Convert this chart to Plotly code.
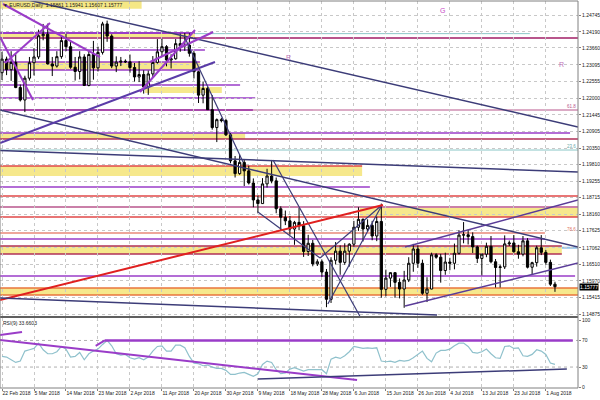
import plotly.graph_objects as go

# ---------------- data ----------------
opens = [1.2284,1.2329,1.2294,1.2318,1.2235,1.2194,1.2266,1.2317,1.2336,1.2406,1.2411,1.2313,1.2306,1.2337,1.2390,1.2370,1.2302,1.2288,1.2336,1.2242,
         1.2344,1.2300,1.2351,1.2445,1.2405,1.2306,1.2319,1.2322,1.2320,1.2301,1.2270,1.2278,1.2237,1.2280,1.2318,1.2353,1.2370,1.2326,1.2330,1.2380,
         1.2373,1.2375,1.2348,1.2287,1.2210,1.2232,1.2162,1.2103,1.2129,1.2126,1.2079,1.1993,1.1951,1.1988,1.1960,1.1920,1.1864,1.1852,1.1917,1.1943,
         1.1927,1.1835,1.1807,1.1795,1.1768,1.1790,1.1779,1.1694,1.1721,1.1653,1.1660,1.1626,1.1536,1.1665,1.1695,1.1658,1.1695,1.1718,1.1774,1.1800,
         1.1768,1.1780,1.1745,1.1793,1.1569,1.1606,1.1624,1.1592,1.1570,1.1600,1.1655,1.1702,1.1655,1.1556,1.1570,1.1683,1.1675,1.1631,1.1659,1.1655,
         1.1688,1.1748,1.1749,1.1743,1.1709,1.1671,1.1685,1.1711,1.1660,1.1641,1.1643,1.1719,1.1722,1.1693,1.1685,1.1729,1.1642,1.1657,1.1706,1.1691,
         1.1658,1.15861]
highs = [1.2353,1.2337,1.2355,1.2345,1.2245,1.2274,1.2336,1.2365,1.2426,1.2445,1.2446,1.2336,1.2355,1.2408,1.2412,1.2385,1.2336,1.2355,1.2345,1.2357,
         1.2389,1.2370,1.2452,1.2456,1.2411,1.2338,1.2336,1.2328,1.2344,1.2316,1.2322,1.2292,1.2291,1.2339,1.2395,1.2396,1.2375,1.2345,1.2395,1.2413,
         1.2415,1.2414,1.2355,1.2290,1.2255,1.2237,1.2210,1.2133,1.2135,1.2132,1.2085,1.2009,1.2014,1.1996,1.1977,1.1935,1.1879,1.1936,1.1967,1.1996,
         1.1938,1.1843,1.1829,1.1811,1.1795,1.1838,1.1794,1.1749,1.1732,1.1668,1.1667,1.1636,1.1675,1.1725,1.1714,1.1721,1.1721,1.1795,1.1840,1.1803,
         1.1800,1.1795,1.1809,1.1852,1.1634,1.1623,1.1625,1.1605,1.1630,1.1675,1.1719,1.1714,1.1667,1.1609,1.1690,1.1688,1.1686,1.1690,1.1673,1.1720,
         1.1764,1.1791,1.1766,1.1757,1.1713,1.1686,1.1723,1.1745,1.1669,1.1650,1.1747,1.1730,1.1748,1.1716,1.1745,1.1738,1.1660,1.1713,1.1748,1.1699,
         1.1667,1.15941]
lows = [1.2260,1.2276,1.2257,1.2233,1.2189,1.2154,1.2258,1.2275,1.2329,1.2391,1.2311,1.2273,1.2301,1.2330,1.2355,1.2297,1.2258,1.2262,1.2240,1.2239,
        1.2261,1.2288,1.2344,1.2386,1.2299,1.2286,1.2306,1.2316,1.2284,1.2255,1.2253,1.2215,1.2211,1.2270,1.2314,1.2336,1.2305,1.2298,1.2327,1.2353,
        1.2356,1.2337,1.2265,1.2184,1.2183,1.2161,1.2096,1.2055,1.2120,1.2075,1.1985,1.1938,1.1947,1.1910,1.1915,1.1840,1.1822,1.1852,1.1905,1.1919,
        1.1820,1.1762,1.1781,1.1749,1.1716,1.1764,1.1676,1.1679,1.1645,1.1646,1.1610,1.1510,1.1524,1.1651,1.1617,1.1650,1.1644,1.1710,1.1762,1.1727,
        1.1758,1.1731,1.1728,1.1541,1.1546,1.1577,1.1541,1.1539,1.1508,1.1593,1.1627,1.1640,1.1551,1.1527,1.1569,1.1670,1.1591,1.1617,1.1632,1.1635,
        1.1684,1.1721,1.1717,1.1689,1.1656,1.1615,1.1675,1.1655,1.1575,1.1575,1.1636,1.1712,1.1690,1.1670,1.1678,1.1638,1.1619,1.1644,1.1682,1.1650,
        1.1580,1.15607]
closes = [1.2329,1.2294,1.2318,1.2235,1.2194,1.2266,1.2317,1.2336,1.2406,1.2411,1.2313,1.2306,1.2337,1.2390,1.2370,1.2302,1.2288,1.2336,1.2242,1.2344,
          1.2300,1.2351,1.2445,1.2405,1.2306,1.2319,1.2322,1.2320,1.2301,1.2270,1.2278,1.2237,1.2280,1.2318,1.2353,1.2370,1.2326,1.2330,1.2380,1.2373,
          1.2375,1.2348,1.2287,1.2210,1.2232,1.2162,1.2103,1.2129,1.2126,1.2079,1.1993,1.1951,1.1988,1.1960,1.1920,1.1864,1.1852,1.1917,1.1943,1.1927,
          1.1835,1.1807,1.1795,1.1768,1.1790,1.1779,1.1694,1.1721,1.1653,1.1660,1.1626,1.1536,1.1665,1.1695,1.1658,1.1695,1.1718,1.1774,1.1800,1.1768,
          1.1780,1.1745,1.1793,1.1569,1.1606,1.1624,1.1592,1.1570,1.1600,1.1655,1.1702,1.1655,1.1556,1.1570,1.1683,1.1675,1.1631,1.1659,1.1655,1.1688,
          1.1748,1.1749,1.1743,1.1709,1.1671,1.1685,1.1711,1.1660,1.1641,1.1643,1.1719,1.1722,1.1693,1.1685,1.1729,1.1642,1.1657,1.1706,1.1691,1.1658,
          1.1586,1.15777]
rsi = [46,45,41,37,39,54,56,58,66,56,50,50,53,61,57,45,46,52,41,50,
       54,57,64,70,62,50,48,49,44,42,44,41,45,54,61,62,54,54,63,63,
       59,46,36,35,32,33,30,28,28,25,19,19,21,22,19,16,20,34,39,37,
       26,20,21,27,29,27,24,26,26,27,26,20,42,45,43,47,53,61,59,58,
       59,58,59,39,38,39,37,40,39,40,44,49,54,43,38,51,55,55,57,62,
       66,66,61,52,51,53,57,50,44,43,61,62,58,59,47,46,49,56,54,49,
       36,34]
date_ticks = [0,7,14,21,28,35,42,49,56,63,70,77,84,91,98,105,112,119]
date_labels = ["22 Feb 2018","5 Mar 2018","14 Mar 2018","23 Mar 2018","2 Apr 2018","11 Apr 2018",
               "20 Apr 2018","30 Apr 2018","9 May 2018","18 May 2018","28 May 2018","6 Jun 2018",
               "15 Jun 2018","26 Jun 2018","4 Jul 2018","13 Jul 2018","23 Jul 2018","1 Aug 2018"]
price_ticks = [1.24745,1.24190,1.23660,1.23095,1.22555,1.22000,1.21445,1.20905,1.20350,1.19810,
               1.19255,1.18715,1.18160,1.17625,1.17062,1.16510,1.15970,1.15415,1.14875]
rsi_ticks = [0,30,70,100]

# zones: (low, high, bar_from, bar_to)
zones = [(1.23986,1.24151,-1,42.2),(1.22929,1.23193,-1,43.3),(1.22170,1.22368,31.3,48.1),
         (1.20651,1.20850,-1,53.2),(1.19430,1.19760,-1,78.8),(1.18077,1.18374,78.3,127),
         (1.16855,1.17119,-1,122.5),(1.15504,1.15733,-1,127)]
PUR = "#9a3cc8"; PINK = "#b8568c"; MAR = "#b03058"; RED = "#e04848"; ORG = "#e8743c"
TEAL = "#8cc8c8"; NAVY = "#3c3c78"; SAL = "#e88878"
# horizontal levels: (price, bar_from, bar_to, colour, width)
levels = [(1.24151,-1,42.2,PUR,2),(1.2413,42.2,115.5,TEAL,1),(1.23986,-1,127,PINK,2),
          (1.23590,-1,44.4,PUR,1.5),(1.23193,-1,43.3,PUR,1.5),(1.22929,-1,43.3,PUR,1.5),
          (1.22434,-1,52.1,PUR,1.5),(1.22005,-1,55.4,PUR,1.5),(1.21609,-1,54.9,PUR,2),
          (1.21609,-1,127,PINK,1),(1.20850,-1,124.3,PUR,1.5),(1.20651,-1,127,MAR,1.5),
          (1.20288,-1,127,TEAL,1),(1.19760,-1,78.8,RED,1.5),(1.19067,-1,80.5,PUR,1.5),
          (1.18770,-1,127,RED,1.5),(1.18407,-1,127,PINK,1.5),(1.18077,-1,127,RED,1.5),
          (1.17549,-1,118.8,SAL,1.5),(1.17350,-1,118.8,PUR,1.5),(1.17119,-1,122.5,MAR,1.5),
          (1.16855,-1,122.5,MAR,1.5),(1.16129,-1,125.4,PUR,1.5),(1.15733,-1,127,ORG,1.5),
          (1.15504,-1,127,ORG,1.5),(1.17062,122.5,127,"#90c0e8",2)]
# trend lines: (bar0, price0, bar1, price1, colour, width)
trends = [(-0.44,1.21609,126.04,1.17086,NAVY,1.5),(5.69,1.25240,126.04,1.21048,NAVY,1.5),
          (-0.44,1.20272,126.04,1.19562,NAVY,1.5),(0.22,1.25108,21.44,1.23358,PUR,2),
          (-0.44,1.24019,6.78,1.21939,PUR,2),(0.66,1.23160,10.5,1.24481,PUR,2),
          (-0.44,1.20520,46.6,1.23193,"#5a3ca8",2),(30.2,1.22203,42.23,1.24250,PUR,2),
          (32.4,1.23193,46.2,1.24184,PUR,2),(40.04,1.23986,52.74,1.19892,NAVY,1.2),
          (59.3,1.19958,78.3,1.14809,NAVY,1.2),(56.0,1.18242,69.6,1.16723,NAVY,1.2),
          (69.6,1.16723,83.15,1.18473,NAVY,1.2),(71.3,1.15204,83.15,1.18473,NAVY,1.2),
          (-0.44,1.15337,83.37,1.18473,"#e02020",2),(-0.44,1.15403,95.2,1.14842,NAVY,1.5),
          (88.2,1.17086,126.04,1.18638,"#5a3c98",1.5),(88.2,1.15138,126.04,1.16558,"#5a3c98",1.5)]
rsi_trends = [(20.5,62,22.5,70,PUR,2),(22.5,70,124.9,70,PUR,2.5),(-0.44,78.2,4.38,82.7,PUR,2),
              (-0.44,70.7,77.7,10.5,PUR,2),(56.0,12.0,123.6,27.1,NAVY,1.5)]

# ---------------- figure ----------------
x = list(range(len(opens)))
fig = go.Figure()
fig.add_trace(go.Candlestick(
    x=x, open=opens, high=highs, low=lows, close=closes,
    increasing=dict(line=dict(color="black", width=1), fillcolor="white"),
    decreasing=dict(line=dict(color="black", width=1), fillcolor="black"),
    whiskerwidth=0, xaxis="x", yaxis="y", showlegend=False, hoverinfo="skip"))
fig.add_trace(go.Scatter(x=x, y=rsi, mode="lines", line=dict(color="#8fc1cc", width=1.2),
                         xaxis="x2", yaxis="y2", showlegend=False, hoverinfo="skip"))

shapes = []
for lo, hi, b0, b1 in zones:
    shapes.append(dict(type="rect", xref="x", yref="y", x0=b0, x1=b1, y0=lo, y1=hi,
                       fillcolor="rgba(244,228,120,0.85)", line=dict(width=0), layer="below"))
for p, b0, b1, c, w in levels:
    shapes.append(dict(type="line", xref="x", yref="y", x0=b0, x1=b1, y0=p, y1=p,
                       line=dict(color=c, width=w), layer="below"))
for b0, p0, b1, p1, c, w in trends:
    shapes.append(dict(type="line", xref="x", yref="y", x0=b0, x1=b1, y0=p0, y1=p1,
                       line=dict(color=c, width=w)))
for lvl in (30, 70):
    shapes.append(dict(type="line", xref="paper", yref="y2", x0=0, x1=1, y0=lvl, y1=lvl,
                       line=dict(color="#b0b0b0", width=1, dash="dot"), layer="below"))
for b0, p0, b1, p1, c, w in rsi_trends:
    shapes.append(dict(type="line", xref="x2", yref="y2", x0=b0, x1=b1, y0=p0, y1=p1,
                       line=dict(color=c, width=w)))
# title strip, pane separator, frame
shapes.append(dict(type="rect", xref="paper", yref="paper", x0=0, x1=0.245, y0=0.98, y1=1.0,
                   fillcolor="rgba(244,228,120,0.9)", line=dict(width=0), layer="below"))
shapes.append(dict(type="line", xref="paper", yref="paper", x0=0, x1=1, y0=0.1835, y1=0.1835,
                   line=dict(color="#606060", width=2)))
shapes.append(dict(type="rect", xref="paper", yref="paper", x0=0, x1=1, y0=0, y1=1,
                   line=dict(color="#808080", width=1)))

F = "Liberation Sans, Arial, sans-serif"
ann = [
    dict(xref="paper", yref="paper", x=0.003, y=0.999, xanchor="left", yanchor="top",
         text="▼ EURUSD,Daily  1.15861 1.15941 1.15607 1.15777", showarrow=False,
         font=dict(family=F, size=5, color="#202020"), borderpad=0),
    dict(xref="paper", yref="paper", x=0.003, y=0.179, xanchor="left", yanchor="top",
         text="RSI(9) 33.6603", showarrow=False, font=dict(family=F, size=5, color="#202020"),
         borderpad=0),
    dict(xref="x", yref="y", x=96.3, y=1.2491, text="G", showarrow=False,
         font=dict(family=F, size=7, color="#c848c8")),
    dict(xref="x", yref="y", x=62.6, y=1.2333, text="R", showarrow=False,
         font=dict(family=F, size=7, color="#c070b8")),
    dict(xref="x", yref="y", x=122.5, y=1.2310, text="R", showarrow=False,
         font=dict(family=F, size=7, color="#c070b8")),
    dict(xref="paper", yref="y", x=0.998, y=1.2172, xanchor="right", text="61.8", showarrow=False,
         font=dict(family=F, size=4.5, color="#b8568c"), borderpad=0),
    dict(xref="paper", yref="y", x=0.998, y=1.2040, xanchor="right", text="23.6", showarrow=False,
         font=dict(family=F, size=4.5, color="#6aa8a8"), borderpad=0),
    dict(xref="paper", yref="y", x=0.998, y=1.1766, xanchor="right", text="78.6", showarrow=False,
         font=dict(family=F, size=4.5, color="#e07868"), borderpad=0),
    dict(xref="paper", yref="y", x=1.002, y=closes[-1], xanchor="left", text="1.15777",
         showarrow=False, bgcolor="black", font=dict(family=F, size=5, color="white"),
         borderpad=0),
]

fig.update_layout(
    width=600, height=400, margin=dict(l=0, r=22, t=1, b=12, autoexpand=False),
    paper_bgcolor="white", plot_bgcolor="white", showlegend=False,
    shapes=shapes, annotations=ann,
    xaxis=dict(domain=[0, 1], anchor="y", range=[-0.44, 126.04], showticklabels=False,
               tickvals=date_ticks, showgrid=True, gridcolor="#c8c8c8", griddash="dot",
               gridwidth=1, zeroline=False, rangeslider=dict(visible=False), ticks="",
               automargin=False),
    xaxis2=dict(domain=[0, 1], anchor="y2", matches="x", range=[-0.44, 126.04],
                tickvals=date_ticks, ticktext=date_labels, ticks="outside", ticklen=2,
                tickcolor="#808080", ticklabelposition="outside right", tickangle=0,
                tickfont=dict(family=F, size=5, color="#202020"), automargin=False,
                showgrid=True, gridcolor="#c8c8c8", griddash="dot", zeroline=False),
    yaxis=dict(domain=[0.186, 1], anchor="x", side="right", range=[1.14809, 1.25207],
               tickvals=price_ticks, ticktext=[f"{v:.5f}" for v in price_ticks],
               ticks="outside", ticklen=2, tickcolor="#808080", automargin=False,
               tickfont=dict(family=F, size=5, color="#202020"),
               showgrid=True, gridcolor="#c8c8c8", griddash="dot", zeroline=False),
    yaxis2=dict(domain=[0, 0.1809], anchor="x2", side="right", range=[-1.5, 103.8],
                tickvals=rsi_ticks, ticks="outside", ticklen=2, tickcolor="#808080",
                tickfont=dict(family=F, size=5, color="#202020"), automargin=False,
                showgrid=False, zeroline=False),
)
fig.write_html("out.html", config={"displayModeBar": False, "staticPlot": True},
               post_script="document.body.style.margin='0';document.body.style.overflow='hidden';")
